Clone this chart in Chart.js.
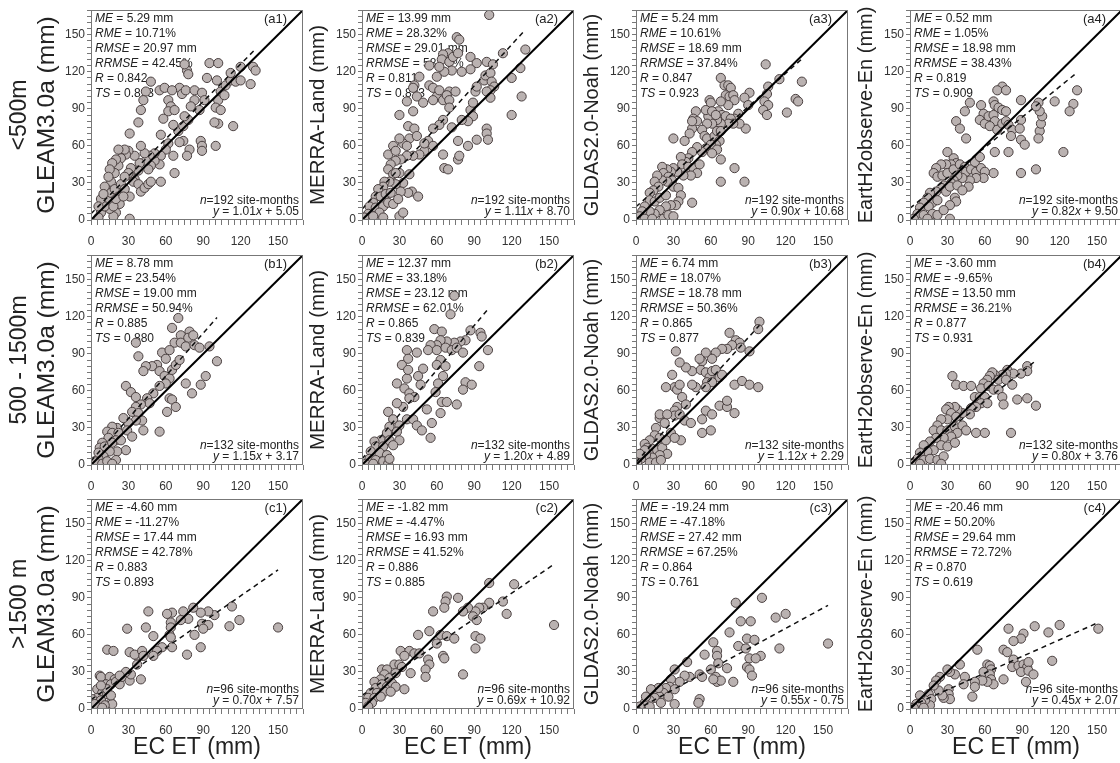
<!DOCTYPE html>
<html lang="en">
<head>
<meta charset="UTF-8">
<title>EC ET vs model ET</title>
<script src="https://cdn.jsdelivr.net/npm/chart.js"></script>
<style>
  body { margin: 0; background: #fff; width: 1120px; height: 763px; overflow: hidden; position: relative; }
  canvas { position: absolute; }
</style>
</head>
<body>
<script>
// ---- data ----
const rowLabels = ['<500m', '500 - 1500m', '>1500 m'];
const productNames = ['GLEAM3.0a', 'MERRA-Land', 'GLDAS2.0-Noah', 'EartH2observe-En'];
const panelTags = [['a1', 'a2', 'a3', 'a4'], ['b1', 'b2', 'b3', 'b4'], ['c1', 'c2', 'c3', 'c4']];
const siteMonths = [192, 132, 96];
const tickLabels = [0, 30, 60, 90, 120, 150];
const axisMax = 170;

const meVals = [['5.29', '13.99', '5.24', '0.52'], ['8.78', '12.37', '6.74', '-3.60'], ['-4.60', '-1.82', '-19.24', '-20.46']];
const rmeVals = [['10.71', '28.32', '10.61', '1.05'], ['23.54', '33.18', '18.07', '-9.65'], ['-11.27', '-4.47', '-47.18', '50.20']];
const rmseVals = [['20.97', '29.01', '18.69', '18.98'], ['19.00', '23.12', '18.78', '13.50'], ['17.44', '16.93', '27.42', '29.64']];
const rrmseVals = [['42.45', '58.73', '37.84', '38.43'], ['50.94', '62.01', '50.36', '36.21'], ['42.78', '41.52', '67.25', '72.72']];
const rVals = [['0.842', '0.811', '0.847', '0.819'], ['0.885', '0.865', '0.865', '0.877'], ['0.883', '0.886', '0.864', '0.870']];
const tsVals = [['0.893', '0.823', '0.923', '0.909'], ['0.880', '0.839', '0.877', '0.931'], ['0.893', '0.885', '0.761', '0.619']];
const slopes = [[1.01, 1.11, 0.90, 0.82], [1.15, 1.20, 1.12, 0.80], [0.70, 0.69, 0.55, 0.45]];
const intercepts = [[5.05, 8.70, 10.68, 9.50], [3.17, 4.89, 2.29, 3.76], [7.57, 10.92, -0.75, 2.07]];

// [EC ET, product ET] in mm
const a1Pts = [[95,127],[77,121],[78,118],[75,126],[48,112],[44,104],[42,97],[40,89],[38,79],[31,70],[55,105],[59,107],[62,97],[64,92],[62,88],[58,82],[67,89],[71,107],[65,105],[73,102],[76,105],[83,105],[89,103],[83,97],[80,92],[87,89],[91,97],[93,115],[101,113],[104,104],[102,97],[100,91],[104,89],[107,101],[108,109],[112,113],[116,112],[120,113],[128,110],[130,124],[132,121],[120,124],[112,119],[102,127],[114,76],[102,78],[100,60],[99,79],[88,64],[89,60],[89,56],[79,57],[77,52],[74,64],[71,63],[70,72],[74,76],[78,81],[75,84],[66,77],[66,52],[67,38],[62,62],[60,57],[56,69],[56,52],[56,31],[55,45],[51,48],[51,54],[48,44],[47,52],[46,41],[44,48],[43,54],[40,60],[39,46],[38,40],[35,52],[35,33],[32,42],[31,37],[30,56],[28,53],[27,57],[24,50],[22,57],[22,44],[20,49],[19,38],[17,46],[16,31],[15,41],[14,35],[12,25],[11,27],[14,17],[16,22],[19,25],[22,19],[23,13],[20,6],[18,3],[15,9],[8,6],[6,2],[11,11],[8,17],[6,11],[24,29],[27,25],[31,19],[34,31],[38,29],[40,23],[43,26],[46,29],[48,31],[31,1],[18,11],[20,17],[10,21],[26,19],[30,38],[27,35]];
const a2Pts = [[102,166],[76,148],[78,146],[69,135],[65,134],[64,130],[70,128],[73,132],[77,135],[87,132],[92,127],[87,122],[80,120],[72,121],[66,120],[62,124],[60,116],[54,125],[46,116],[42,109],[41,107],[44,100],[54,109],[57,107],[60,100],[57,97],[62,105],[65,97],[70,104],[68,101],[75,104],[70,97],[70,91],[65,81],[62,77],[57,74],[53,64],[57,60],[50,56],[66,42],[69,41],[65,53],[72,75],[77,64],[77,49],[78,52],[85,60],[87,89],[89,84],[89,95],[91,104],[92,108],[98,113],[99,117],[100,128],[103,119],[104,112],[106,108],[103,105],[100,104],[103,99],[100,74],[100,70],[101,65],[92,65],[85,80],[80,81],[120,115],[120,85],[127,123],[128,100],[131,138],[113,135],[105,126],[49,95],[41,88],[36,96],[30,85],[37,76],[42,74],[38,66],[33,62],[30,66],[25,60],[21,53],[27,56],[36,60],[44,68],[50,62],[46,53],[41,52],[36,52],[31,49],[27,48],[23,45],[21,41],[25,37],[30,38],[38,37],[33,30],[40,23],[37,22],[31,23],[27,29],[22,31],[18,31],[17,27],[13,25],[11,19],[15,19],[19,21],[23,22],[9,14],[6,11],[11,10],[17,11],[21,14],[14,6],[5,5],[2,2],[9,3],[30,3],[33,6],[17,2],[25,13],[29,17],[45,19],[27,38]];
const a3Pts = [[104,126],[133,112],[115,114],[128,98],[130,96],[121,87],[106,108],[105,102],[103,96],[106,93],[102,89],[105,85],[91,103],[87,99],[90,93],[88,74],[82,86],[79,82],[83,78],[68,115],[71,109],[74,109],[76,107],[72,101],[75,100],[78,101],[79,97],[74,93],[68,96],[66,88],[69,85],[72,84],[76,82],[78,78],[74,78],[68,78],[65,81],[61,78],[58,84],[57,78],[56,89],[59,97],[60,95],[61,88],[64,85],[48,88],[46,82],[49,80],[45,74],[43,70],[53,73],[55,68],[57,66],[63,68],[65,72],[68,72],[67,64],[64,61],[60,61],[56,58],[65,57],[68,49],[79,42],[87,31],[68,31],[61,54],[53,55],[49,59],[45,55],[39,64],[30,66],[42,50],[40,47],[36,51],[37,45],[42,43],[46,42],[51,45],[49,38],[44,36],[38,36],[33,39],[30,42],[28,39],[25,41],[21,43],[22,38],[26,35],[29,32],[25,31],[21,32],[17,36],[15,31],[18,27],[14,24],[11,22],[11,16],[15,15],[19,18],[24,20],[30,27],[34,26],[36,20],[34,15],[32,12],[28,12],[24,11],[19,8],[15,5],[11,7],[7,11],[5,7],[3,3],[7,1],[13,1],[22,1],[26,4],[30,3],[45,14],[45,80]];
const a4Pts = [[74,108],[70,105],[77,105],[134,105],[103,95],[116,96],[131,94],[128,88],[123,55],[48,95],[44,88],[37,80],[40,74],[45,66],[57,93],[59,86],[56,81],[60,78],[63,84],[67,96],[68,93],[71,91],[74,89],[77,88],[67,85],[68,80],[64,76],[70,73],[74,78],[77,80],[79,77],[82,73],[81,68],[89,97],[89,81],[88,74],[89,65],[92,61],[104,72],[105,78],[106,84],[104,88],[101,92],[103,66],[79,55],[68,55],[67,38],[89,38],[101,41],[30,55],[35,50],[37,46],[33,45],[29,45],[25,45],[21,42],[19,38],[22,35],[26,36],[30,38],[35,41],[40,45],[44,43],[45,39],[49,41],[53,39],[57,42],[60,39],[59,34],[53,34],[48,32],[42,34],[38,36],[35,32],[33,30],[27,28],[25,26],[29,23],[32,27],[38,28],[47,27],[42,24],[36,18],[37,15],[32,12],[21,23],[16,22],[14,18],[11,14],[18,14],[22,16],[15,11],[8,10],[6,5],[11,4],[18,5],[22,4],[27,8],[32,1],[14,1],[3,1],[52,47],[56,51]];
const b1Pts = [[70,119],[79,108],[65,111],[72,105],[78,103],[82,105],[67,99],[72,99],[76,96],[83,97],[87,95],[95,96],[101,84],[92,72],[88,65],[81,58],[76,66],[36,99],[38,88],[57,91],[60,86],[63,93],[53,81],[49,80],[44,80],[42,76],[55,76],[59,72],[63,70],[65,77],[68,81],[71,85],[60,66],[55,64],[50,58],[45,54],[47,50],[63,54],[65,53],[61,43],[68,47],[28,64],[32,59],[36,55],[40,49],[36,47],[33,43],[38,42],[41,36],[36,36],[30,34],[26,38],[42,28],[55,27],[21,30],[17,31],[13,27],[17,26],[22,26],[20,20],[14,22],[9,18],[7,14],[11,15],[17,18],[24,20],[28,12],[21,11],[15,11],[10,7],[6,5],[3,3],[9,1],[13,3],[20,4],[17,1],[6,10],[29,28],[33,23]];
const b2Pts = [[74,137],[71,122],[58,110],[64,108],[87,109],[95,107],[96,104],[83,101],[79,100],[74,99],[68,100],[63,101],[60,97],[55,97],[53,93],[60,93],[67,95],[72,93],[76,95],[81,91],[101,93],[94,80],[83,67],[88,65],[81,61],[76,49],[63,85],[60,81],[67,80],[65,72],[61,66],[59,59],[64,51],[68,51],[63,42],[56,34],[52,45],[49,78],[44,91],[36,93],[37,86],[32,81],[36,70],[28,66],[34,62],[38,58],[45,72],[47,65],[42,55],[38,54],[33,47],[28,50],[21,43],[25,37],[22,31],[30,32],[36,37],[41,37],[44,32],[48,28],[55,22],[28,27],[20,26],[15,20],[10,19],[11,15],[17,15],[22,20],[30,20],[25,16],[7,11],[14,10],[20,8],[6,5],[11,4],[17,3],[3,1],[9,1],[21,1],[22,5],[37,77]];
const b3Pts = [[99,116],[98,110],[75,107],[80,101],[83,99],[77,97],[84,95],[91,92],[73,94],[69,94],[64,91],[61,86],[56,91],[53,84],[51,86],[45,76],[52,77],[56,75],[59,71],[61,76],[64,77],[67,71],[57,67],[61,67],[69,73],[56,63],[48,63],[45,65],[40,79],[35,83],[32,92],[29,73],[31,63],[33,61],[35,65],[24,63],[37,55],[40,49],[33,47],[31,44],[31,40],[35,41],[39,36],[44,34],[53,37],[56,44],[61,41],[67,48],[73,47],[79,42],[79,65],[85,68],[91,65],[98,63],[73,52],[60,28],[53,26],[19,38],[19,41],[23,34],[28,26],[36,20],[25,41],[16,30],[15,24],[19,22],[11,20],[7,17],[9,14],[13,13],[17,12],[21,14],[24,20],[31,22],[25,9],[19,8],[13,6],[8,8],[4,5],[1,2],[11,2],[16,2],[20,4],[7,12],[3,9]];
const b4Pts = [[78,77],[94,80],[94,76],[89,74],[83,74],[77,74],[74,73],[68,73],[71,69],[77,69],[82,65],[66,75],[64,72],[62,69],[59,66],[57,62],[63,64],[67,61],[71,61],[74,55],[75,49],[86,53],[94,54],[101,48],[34,72],[37,65],[43,64],[49,64],[52,55],[56,55],[60,55],[57,50],[62,50],[53,47],[49,46],[48,41],[42,42],[38,45],[36,47],[31,47],[29,45],[33,42],[37,39],[30,37],[25,37],[22,32],[19,28],[25,28],[30,28],[36,31],[42,32],[45,28],[38,26],[53,26],[60,26],[81,26],[33,23],[27,22],[21,22],[16,19],[11,16],[25,16],[30,15],[36,18],[19,12],[14,11],[8,10],[6,5],[11,4],[16,5],[22,4],[27,7],[3,1],[8,1],[25,1]];
const c1Pts = [[150,66],[113,83],[119,72],[111,67],[99,76],[94,79],[88,78],[89,69],[94,68],[90,65],[83,60],[78,73],[82,82],[74,79],[72,72],[65,78],[61,77],[46,79],[64,70],[64,66],[63,60],[64,58],[65,50],[88,50],[77,44],[57,50],[50,59],[53,47],[50,43],[44,66],[29,65],[37,43],[31,46],[35,44],[41,47],[42,43],[37,36],[40,24],[13,48],[18,47],[7,27],[8,26],[15,26],[19,24],[12,20],[16,20],[20,22],[23,20],[25,26],[31,23],[32,28],[28,30],[23,27],[5,16],[9,13],[13,12],[5,9],[1,8],[8,7],[16,5],[17,4],[11,3],[5,1],[13,16],[8,19],[16,11],[3,4],[9,1]];
const c2Pts = [[154,68],[122,101],[102,102],[113,87],[116,77],[102,86],[97,82],[94,82],[91,79],[89,75],[92,72],[85,82],[81,79],[77,90],[68,91],[67,87],[66,82],[57,79],[63,60],[68,59],[74,57],[54,63],[45,60],[60,53],[65,43],[66,41],[53,40],[54,36],[51,32],[51,26],[39,29],[81,28],[91,59],[95,57],[91,49],[31,47],[38,47],[42,45],[46,45],[34,43],[26,36],[30,36],[32,34],[16,32],[20,32],[18,28],[22,25],[27,29],[15,24],[10,22],[11,17],[16,20],[20,18],[24,21],[27,18],[34,16],[7,13],[12,13],[18,14],[23,14],[5,9],[10,9],[15,10],[3,5],[8,5],[5,2]];
const c3Pts = [[154,53],[120,77],[112,74],[115,49],[101,90],[80,86],[84,71],[92,71],[75,62],[89,57],[95,56],[82,51],[62,54],[65,47],[65,43],[66,37],[55,44],[41,38],[31,32],[60,32],[73,33],[88,49],[91,41],[100,43],[96,41],[89,34],[91,32],[93,27],[78,22],[64,26],[65,22],[68,23],[62,24],[51,28],[53,26],[43,26],[39,27],[35,22],[28,24],[27,18],[31,16],[24,17],[22,13],[16,13],[19,10],[26,10],[15,9],[11,7],[7,5],[3,2],[11,2],[20,5],[31,4],[51,8],[50,5],[18,17],[12,16],[8,10]];
const c4Pts = [[151,65],[120,68],[100,67],[91,61],[89,57],[83,55],[79,65],[75,48],[78,46],[83,40],[111,62],[114,39],[54,48],[62,36],[64,35],[65,32],[59,30],[64,28],[65,24],[67,20],[62,22],[58,23],[52,22],[52,18],[50,10],[44,26],[43,20],[40,36],[36,28],[32,30],[30,32],[31,16],[31,12],[32,8],[27,9],[26,11],[23,15],[24,26],[21,23],[19,19],[15,12],[17,8],[16,3],[12,7],[8,11],[9,5],[5,4],[3,1],[11,1],[82,34],[87,35],[91,36],[94,34],[95,38],[89,30],[95,31],[99,28],[93,22],[75,24]];

const panelPts = [[a1Pts, a2Pts, a3Pts, a4Pts], [b1Pts, b2Pts, b3Pts, b4Pts], [c1Pts, c2Pts, c3Pts, c4Pts]];

// ---- layout ----
const FAM = '"Liberation Sans", Arial, sans-serif';
const colLeft = [91, 362, 636, 910];
const rowTop = [10, 255, 499];
const PW = 212, PH = 210, YW = 85, PADT = 24, PADR = 10;
const titleSize = [24.5, 20.5, 20, 20];   // y-title font per product column
const TITLE_GAP = 44;                     // plot left -> y-title centre
const ROW_GAP = 71;                       // plot left -> row label centre

Chart.defaults.font.family = FAM;

function drawRich(ctx, parts, x, y, align, size) {
  let w = 0;
  parts.forEach(p => {
    ctx.font = (p.i ? 'italic ' : '') + size + 'px ' + FAM;
    w += ctx.measureText(p.t).width;
  });
  let cx = align === 'right' ? x - w : x;
  parts.forEach(p => {
    ctx.font = (p.i ? 'italic ' : '') + size + 'px ' + FAM;
    ctx.fillText(p.t, cx, y);
    cx += ctx.measureText(p.t).width;
  });
}

// stats text under the points, frame + row label on top
const panelDecor = {
  id: 'panelDecor',
  beforeDatasetsDraw(chart, args, o) {
    const { ctx, chartArea: a } = chart;
    const r = o.row, c = o.col;
    ctx.save();
    ctx.fillStyle = '#222';
    ctx.textBaseline = 'middle';
    const lines = [
      [{ t: 'ME', i: 1 }, { t: ' = ' + meVals[r][c] + ' mm' }],
      [{ t: 'RME', i: 1 }, { t: ' = ' + rmeVals[r][c] + '%' }],
      [{ t: 'RMSE', i: 1 }, { t: ' = ' + rmseVals[r][c] + ' mm' }],
      [{ t: 'RRMSE', i: 1 }, { t: ' = ' + rrmseVals[r][c] + '%' }],
      [{ t: 'R', i: 1 }, { t: ' = ' + rVals[r][c] }],
      [{ t: 'TS', i: 1 }, { t: ' = ' + tsVals[r][c] }]
    ];
    lines.forEach((ln, k) => drawRich(ctx, ln, a.left + 4, a.top + 9 + k * 15, 'left', 12));
    drawRich(ctx, [{ t: '(' + panelTags[r][c] + ')' }], a.right - 16, a.top + 9, 'right', 13);
    const b = intercepts[r][c];
    drawRich(ctx, [{ t: 'n', i: 1 }, { t: '=' + siteMonths[r] + ' site-months' }], a.right - 4, a.bottom - 19, 'right', 12);
    drawRich(ctx, [{ t: 'y', i: 1 }, { t: ' = ' + slopes[r][c].toFixed(2) }, { t: 'x', i: 1 },
      { t: (b < 0 ? ' - ' : ' + ') + Math.abs(b).toFixed(2) }], a.right - 4, a.bottom - 8, 'right', 12);
    ctx.restore();
  },
  afterDraw(chart, args, o) {
    const { ctx, chartArea: a } = chart;
    ctx.save();
    ctx.strokeStyle = '#777';
    ctx.lineWidth = 1;
    ctx.strokeRect(a.left + 0.5, a.top + 0.5, a.width - 1, a.height - 1);
    if (o.col === 0) {
      ctx.translate(a.left - ROW_GAP, (a.top + a.bottom) / 2);
      ctx.rotate(-Math.PI / 2);
      ctx.fillStyle = '#222';
      ctx.textAlign = 'center';
      ctx.textBaseline = 'middle';
      ctx.font = '23px ' + FAM;
      ctx.fillText(rowLabels[o.row], 0, 0);
    }
    ctx.restore();
  }
};

function axisOpts(isX, r, c) {
  const o = {
    type: 'linear',
    min: 0,
    max: axisMax,
    ticks: {
      stepSize: 5,
      autoSkip: false,
      maxRotation: 0,
      color: '#333',
      font: { size: 12 },
      padding: isX ? 9 : 2,
      callback: v => tickLabels.includes(v) ? String(v) : ''
    },
    grid: { drawOnChartArea: false, drawTicks: true, tickLength: isX ? 5 : 4, tickColor: '#777', color: '#777' },
    border: { display: false },
    title: { display: false }
  };
  if (isX) {
    const h = r === 2 ? 55 : 30;
    o.afterFit = s => { s.height = h; };
    if (r === 2) {
      o.title = { display: true, text: 'EC ET (mm)', color: '#222', font: { size: 23, lineHeight: 1.17 }, padding: { top: 0, bottom: 3 } };
    }
  } else {
    const sz = titleSize[c];
    const lh = sz * 1.15;
    o.afterFit = s => { s.width = YW; };
    o.title = {
      display: true,
      text: productNames[c] + ' (mm)',
      color: '#222',
      font: { size: sz, lineHeight: 1.15 },
      padding: { top: YW - TITLE_GAP - lh / 2, bottom: 0 }
    };
  }
  return o;
}

for (let r = 0; r < 3; r++) {
  for (let c = 0; c < 4; c++) {
    const pts = panelPts[r][c];
    const xh = r === 2 ? 55 : 30;
    const cv = document.createElement('canvas');
    cv.width = YW + PW + PADR;
    cv.height = PADT + PH + xh;
    cv.style.left = (colLeft[c] - YW) + 'px';
    cv.style.top = (rowTop[r] - PADT) + 'px';
    document.body.appendChild(cv);

    const xMax = Math.max(...pts.map(p => p[0]));
    const a = slopes[r][c], b = intercepts[r][c];

    new Chart(cv, {
      type: 'scatter',
      data: {
        datasets: [
          {
            label: '1:1',
            data: [{ x: 0, y: 0 }, { x: axisMax, y: axisMax }],
            showLine: true,
            borderColor: '#000',
            borderWidth: 2,
            pointRadius: 0
          },
          {
            label: 'fit',
            data: [{ x: 0, y: b }, { x: xMax, y: a * xMax + b }],
            showLine: true,
            borderColor: '#111',
            borderWidth: 1.5,
            borderDash: [5, 4],
            pointRadius: 0
          },
          {
            label: 'site-months',
            data: pts.map(p => ({ x: p[0], y: p[1] })),
            pointRadius: 4.6,
            pointBackgroundColor: '#bab2b1',
            pointBorderColor: '#4a4040',
            pointBorderWidth: 1
          }
        ]
      },
      options: {
        responsive: false,
        animation: false,
        layout: { padding: { top: PADT, right: PADR, bottom: 0, left: 0 } },
        plugins: {
          legend: { display: false },
          tooltip: { enabled: false },
          panelDecor: { row: r, col: c }
        },
        scales: { x: axisOpts(true, r, c), y: axisOpts(false, r, c) }
      },
      plugins: [panelDecor]
    });
  }
}
</script>
</body>
</html>
